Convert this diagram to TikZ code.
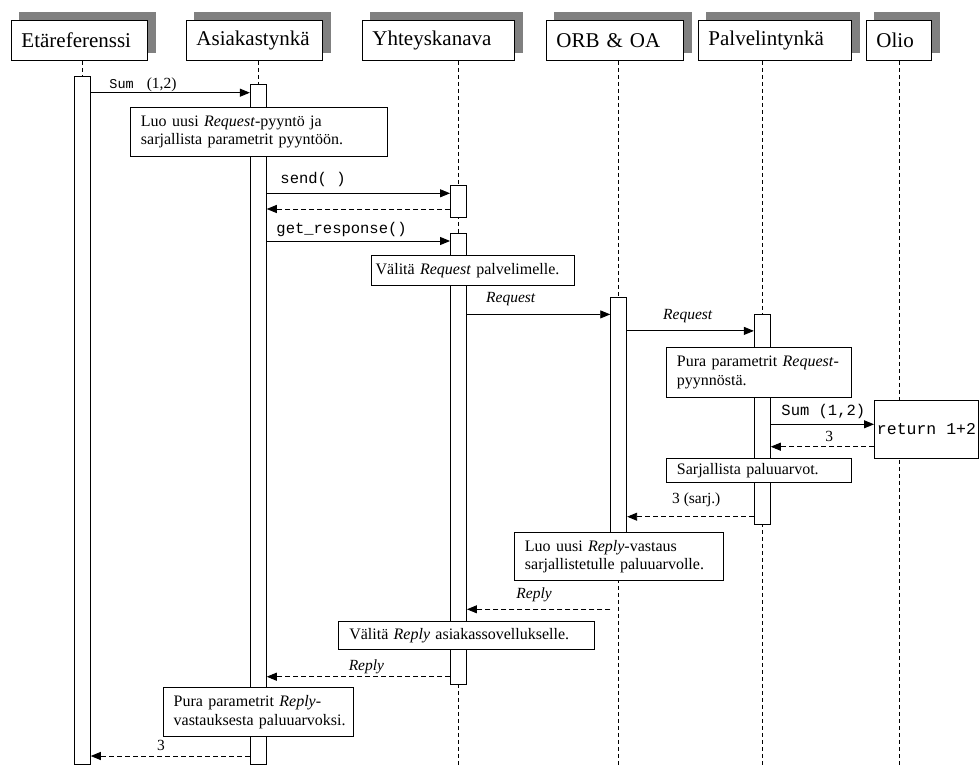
\documentclass[tikz,border=0pt]{standalone}
\usepackage{fontspec}
\setmainfont{Liberation Serif}
\setmonofont{Liberation Mono}
\usetikzlibrary{arrows.meta,backgrounds}

\definecolor{shadowgray}{RGB}{128,128,128}

\tikzset{
  header/.style={draw, fill=white, anchor=north west, minimum height=40pt,
    inner xsep=10pt, inner ysep=0pt, align=left,
    font=\fontsize{21}{25}\selectfont},
  hshadow/.style={fill=shadowgray},
  life/.style={line width=0.8pt, dash pattern=on 4pt off 3pt},
  bar/.style={draw, fill=white, anchor=north, minimum width=16pt, inner sep=0pt},
  note/.style={draw, fill=white, anchor=north west, inner xsep=10.5pt, inner ysep=2pt,
    align=left, font=\fontsize{16}{18.5}\selectfont},
  codebox/.style={draw, fill=white, anchor=north west, inner sep=0pt,
    font=\ttfamily\fontsize{16.5}{19}\selectfont},
  lbl/.style={anchor=base west, inner sep=0pt, font=\fontsize{15.5}{18}\selectfont},
  call/.style={-{Triangle[length=10pt,width=8pt]}},
  reply/.style={call, dash pattern=on 5pt off 3pt}
}

\begin{document}
\begin{tikzpicture}[x=1pt, y=-1pt, line width=0.9pt]
\useasboundingbox (0,0) rectangle (979,767);
\coordinate (bot) at (0,767);

% participants
\node[header, minimum width=136pt, text width=116pt] (etr)  at (11,20)  {Etäreferenssi};
\node[header, minimum width=136pt, text width=116pt] (ast)  at (186,20) {Asiakastynkä};
\node[header, minimum width=152pt, text width=132pt] (yk)   at (362,20) {Yhteyskanava};
\node[header, minimum width=137pt, text width=117pt] (orb)  at (546,20) {ORB \& OA};
\node[header, minimum width=153pt, text width=133pt] (pt)   at (698,20) {Palvelintynkä};
\node[header, minimum width=65pt,  text width=45pt]  (olio) at (866,20) {Olio};

% activation bars
\node[bar, minimum height=688pt]   (b1) at (82.3,76)     {};
\node[bar, minimum height=680pt]   (b2) at (258.3,84)    {};
\node[bar, minimum height=32pt]    (b3) at (458.5,185)   {};
\node[bar, minimum height=451pt]   (b4) at (458.5,233)   {};
\node[bar, minimum height=235pt]   (b5) at (618.7,297)   {};
\node[bar, minimum height=209.6pt] (b6) at (762.3,314.4) {};

% header shadows and lifelines, behind everything else
\begin{scope}[on background layer]
  \foreach \h in {etr,ast,yk,orb,pt,olio}
    \fill[hshadow] ([shift={(8,-8)}]\h.south west) rectangle ([shift={(8,-8)}]\h.north east);
  \draw[life] (etr.south -| b1) -- (b1 |- bot);
  \draw[life] (ast.south -| b2) -- (b2 |- bot);
  \draw[life] (yk.south -| b4)  -- (b4 |- bot);
  \draw[life] (orb.south -| b5) -- (b5 |- bot);
  \draw[life] (pt.south -| b6)  -- (b6 |- bot);
  \draw[life] (olio.south)      -- (olio.south |- bot);
\end{scope}

% the object's method
\node[codebox, minimum width=104pt, minimum height=57.5pt] (retbox) at (874,400.3) {return 1+2};

% message levels
\coordinate (m1) at (0,92.7);
\coordinate (m2) at (0,193.3);
\coordinate (m3) at (0,209);
\coordinate (m4) at (0,241);
\coordinate (m5) at (0,314.4);
\coordinate (m6) at (0,330.9);
\coordinate (m7) at (0,424.3);
\coordinate (m8) at (0,446.7);
\coordinate (m9) at (0,516.7);
\coordinate (m10) at (0,609.3);
\coordinate (m11) at (0,676.7);
\coordinate (m12) at (0,756);

% messages
\draw[call]  (b1.east |- m1)  -- (b2.west |- m1);
\draw[call]  (b2.east |- m2)  -- (b3.west |- m2);
\draw[reply] (b3.west |- m3)  -- (b2.east |- m3);
\draw[call]  (b2.east |- m4)  -- (b4.west |- m4);
\draw[call]  (b4.east |- m5)  -- (b5.west |- m5);
\draw[call]  (b5.east |- m6)  -- (b6.west |- m6);
\draw[call]  (b6.east |- m7)  -- (retbox.west |- m7);
\draw[reply] (retbox.west |- m8) -- (b6.east |- m8);
\draw[reply] (b6.west |- m9)  -- (b5.east |- m9);
\draw[reply] (b5.west |- m10) -- (b4.east |- m10);
\draw[reply] (b4.west |- m11) -- (b2.east |- m11);
\draw[reply] (b2.west |- m12) -- (b1.east |- m12);

% message labels
\node[lbl] (l1)  at (109,88.3)  {{\ttfamily\fontsize{13.5}{16}\selectfont Sum}\hspace{13pt}(1,2)};
\node[lbl] (l2)  at (280,184)   {\ttfamily send( )};
\node[lbl] (l4)  at (276,234)   {\ttfamily get\_response()};
\node[lbl] (l5)  at (485.7,302.3) {\itshape Request};
\node[lbl] (l6)  at (662.7,319.5) {\itshape Request};
\node[lbl] (l7)  at (781,415.7) {\ttfamily Sum (1,2)};
\node[lbl] (l8)  at (825,441.5) {3};
\node[lbl] (l9)  at (671.7,503.3) {3 (sarj.)};
\node[lbl] (l10) at (516,598)   {\itshape Reply};
\node[lbl] (l11) at (348.3,670) {\itshape Reply};
\node[lbl] (l12) at (156.7,750.7) {3};

% notes
\node[note, minimum width=257pt, minimum height=49pt, text width=236pt] (n1) at (130,107)
  {\mbox{Luo uusi \textit{Request}-pyyntö ja}\\\mbox{sarjallista parametrit pyyntöön.}};
\node[note, inner xsep=4.5pt, minimum width=203pt, minimum height=30pt, text width=194pt] (n2) at (370.7,255)
  {\mbox{Välitä \textit{Request} palvelimelle.}};
\node[note, minimum width=185pt, minimum height=49.5pt, text width=164pt] (n3) at (666,347.4)
  {\mbox{Pura parametrit \textit{Request}-}\\\mbox{pyynnöstä.}};
\node[note, minimum width=185pt, minimum height=24pt, text width=164pt] (n4) at (666,457.7)
  {\mbox{Sarjallista paluuarvot.}};
\node[note, minimum width=209pt, minimum height=48pt, text width=188pt] (n5) at (514,532)
  {\mbox{Luo uusi \textit{Reply}-vastaus}\\\mbox{sarjallistetulle paluuarvolle.}};
\node[note, minimum width=256pt, minimum height=28.6pt, text width=235pt] (n6) at (338.3,620.7)
  {\mbox{Välitä \textit{Reply} asiakassovellukselle.}};
\node[note, minimum width=190.6pt, minimum height=48.7pt, text width=169.6pt] (n7) at (162.7,687.3)
  {\mbox{Pura parametrit \textit{Reply}-}\\\mbox{vastauksesta paluuarvoksi.}};
\end{tikzpicture}
\end{document}
